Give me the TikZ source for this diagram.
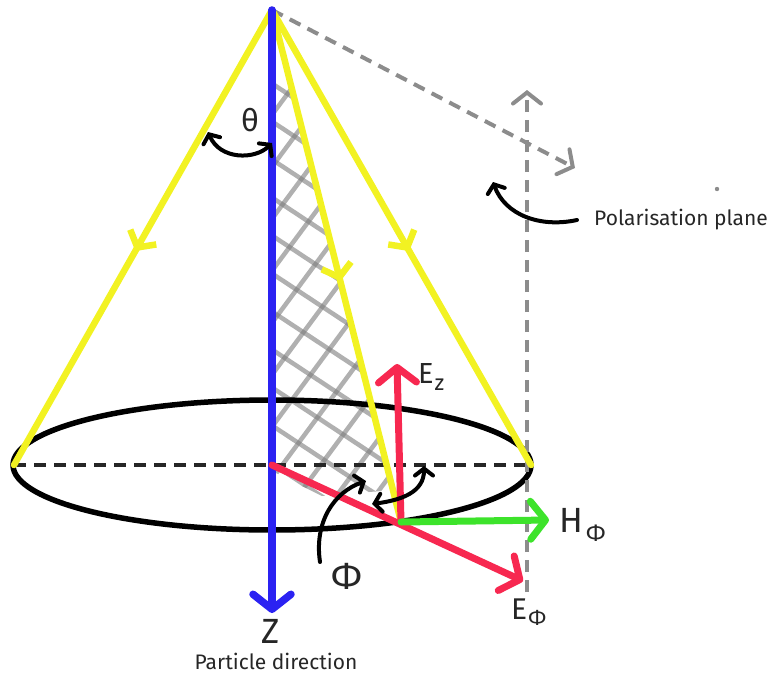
\documentclass[tikz,border=0pt]{standalone}
\usepackage{fontspec}
\setmainfont{Fira Sans}
\usetikzlibrary{arrows.meta,decorations.markings}

\definecolor{conecol}{HTML}{F2F222}
\definecolor{axiscol}{HTML}{2B22F2}
\definecolor{ecol}{HTML}{F72850}
\definecolor{hcol}{HTML}{3DE32B}
\definecolor{planecol}{HTML}{8C8C8C}
\definecolor{hatchcol}{HTML}{7C7C7C}

\newcommand{\fsz}[1]{\fontsize{#1}{#1}\selectfont}

\begin{document}
\begin{tikzpicture}[x=1pt,y=-1pt,
  generator/.style={conecol, line width=6.5pt, line cap=round,
    postaction={decorate},
    decoration={markings, mark=at position 0.53 with
      {\arrow[line width=6.5pt, line cap=round, line join=round]{Straight Barb[length=12pt,width=30pt]}}}},
  vecarrow/.style={line width=7pt, line cap=round,
    -{Straight Barb[length=15pt,width=38pt,line cap=round,line join=round]}},
  planeline/.style={planecol, line width=4pt, dash pattern=on 12pt off 8pt,
    -{Straight Barb[length=11pt,width=28pt,line cap=round]}},
  anglearrow/.style={black, line width=4pt, line cap=round,
    {Straight Barb[length=7pt,width=18pt,line cap=round]}-{Straight Barb[length=7pt,width=18pt,line cap=round]}},
  pointer/.style={black, line width=4pt, line cap=round,
    -{Straight Barb[length=7pt,width=18pt,line cap=round]}},
  hatchline/.style={hatchcol, line width=4.5pt, opacity=0.6},
  lbl/.style={inner sep=0pt, text=black!85},
]
\useasboundingbox (0,0) rectangle (770,677);

% key points of the cone
\coordinate (apex) at (272,10);
\coordinate (O) at (272,465);
\coordinate (L) at (14,465);
\coordinate (R) at (531,465);
\coordinate (P) at (401,522);
\coordinate (zend) at (272,613);
\coordinate (eztip) at (397,364);
\coordinate (ephitip) at (523,581);
\coordinate (hphitip) at (549,520);
\coordinate (planetop) at (527,90);
\coordinate (planebot) at (527,592);
\coordinate (planetip) at (575,168);

% hatched sector between the axis and the generator to P
\begin{scope}
  \clip (274,76) -- (290,76) -- (393,490) -- (322,496) -- (274,472) -- cycle;
  \foreach \c in {-210,-172,...,380}
    \draw[hatchline] (240,{0.66*240+\c}) -- (420,{0.66*420+\c});
  \foreach \c in {430,482,...,1120}
    \draw[hatchline] (240,{-1.35*240+\c}) -- (420,{-1.35*420+\c});
\end{scope}

% base of the cone
\draw[black, line width=5.5pt] (O) ellipse [x radius=259, y radius=65];
\draw[black!85, line width=4.5pt, dash pattern=on 12pt off 8pt] (L) -- (R);

% polarisation plane axes
\draw[planeline] (planebot) -- (planetop);
\draw[planeline] (apex) -- (planetip);

% cone generators
\draw[generator] (apex) -- (L);
\draw[generator] (apex) -- (R);
\draw[generator] (apex) -- (P);

% particle direction
\draw[axiscol, vecarrow, line width=7.5pt] (apex) -- (zend);

% field vectors
\draw[ecol, vecarrow] (O) -- (ephitip);
\draw[ecol, vecarrow] (P) -- (eztip);
\draw[hcol, vecarrow] (P) -- (hphitip);

% angle markers
\coordinate (tha) at (208,132);
\coordinate (thb) at (272,143);
\draw[anglearrow] (tha) .. controls (220,160) and (255,160) .. (thb);

\coordinate (pha) at (372,504);
\coordinate (phb) at (424,466);
\draw[anglearrow] (pha) .. controls (402,500) and (424,492) .. (phb);

\coordinate (phs) at (320,562);
\coordinate (phe) at (366,481);
\draw[pointer] (phs) .. controls (314,522) and (334,492) .. (phe);

\coordinate (pls) at (577,220);
\coordinate (ple) at (493,182);
\draw[pointer] (pls) .. controls (540,228) and (505,215) .. (ple);

\fill[planecol] (717,189) circle (2.2);

% labels
\node[lbl, font=\fsz{31}] (theta) at (250,120) {θ};
\node[lbl, font=\fsz{38}] (phi) at (347,576) {Φ};
\node[lbl, font=\fsz{35}] (zlab) at (271,631) {Z};
\node[lbl, font=\fsz{21}] (pdir) at (276,661) {Particle direction};
\node[lbl, font=\fsz{21}, anchor=west] (plane) at (594,220) {Polarisation plane};
\node[lbl, font=\fsz{29}, anchor=west] (ez) at (418,377) {E\kern1pt\raisebox{-7pt}{\fsz{22}z}};
\node[lbl, font=\fsz{35}, anchor=west] (hphi) at (559,525) {H\kern3pt\raisebox{-9pt}{\fsz{24}Φ}};
\node[lbl, font=\fsz{30}, anchor=west] (ephi) at (511,612) {E\kern1pt\raisebox{-6pt}{\fsz{22}Φ}};
\end{tikzpicture}
\end{document}
